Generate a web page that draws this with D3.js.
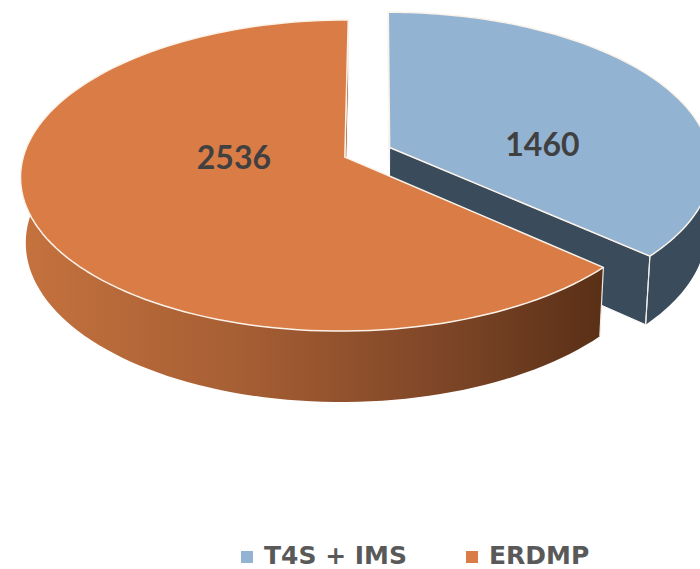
<!DOCTYPE html>
<html>
<head>
<meta charset="utf-8">
<script src="https://cdn.jsdelivr.net/npm/d3@7"></script>
<style>
  body { margin: 0; background: #fff; }
  text { font-weight: 700; }
</style>
</head>
<body>
<svg id="chart" width="700" height="569"></svg>
<script>
// data
var categories = ["T4S + IMS", "ERDMP"];
var values = [1460, 2536];
var explode = [0.153, 0];
var topColors = ["#93B3D3", "#DA7C46"];
var sideColors = ["#3A4B5C", "#8A4E2C"];
// label anchor on top face, in slice-local polar coords (angle deg, radius)
var labelAt = [[88, 0.48], [270, 0.345]];

var svg = d3.select("#chart");

// 3d projection (perspective, camera tilted down, a bit right of centre)
var cx = 377, cy = 157, fx = 2386, fy = 2409, D = 7.42, depth = 0.231, camX = 0.1;
var elev = 28.2 * Math.PI / 180;
var ce = Math.cos(elev), se = Math.sin(elev);

function project(X, Y, Z) {
  var d = D - (Z * ce + Y * se);
  var yc = Y * ce - Z * se;
  return [cx + fx * (X - camX) / d, cy - fy * yc / d];
}

var pie = d3.pie().sort(null).startAngle(0).endAngle(2 * Math.PI);
var arcs = pie(values);

arcs.forEach(function(a, i) {
  var mid = (a.startAngle + a.endAngle) / 2;
  a.ox = explode[i] * Math.sin(mid);
  a.oz = -explode[i] * Math.cos(mid);
});

function pt(a, ang, r, Y) {
  return project(a.ox + r * Math.sin(ang), Y, a.oz - r * Math.cos(ang));
}

function rim(a, Y, reverse) {
  var n = 120, pts = [];
  for (var k = 0; k <= n; k++) {
    var t = a.startAngle + (a.endAngle - a.startAngle) * k / n;
    pts.push(pt(a, t, 1, Y));
  }
  return reverse ? pts.reverse() : pts;
}

var line = d3.line();
var poly = function(pts) { return line(pts) + "Z"; };

// gradient for orange side wall
var defs = svg.append("defs");
var grad = defs.append("linearGradient")
  .attr("id", "sideGrad")
  .attr("gradientUnits", "userSpaceOnUse")
  .attr("x1", 20).attr("x2", 600).attr("y1", 0).attr("y2", 0);
grad.selectAll("stop")
  .data([[0, "#C5723E"], [0.4, "#A45D33"], [0.75, "#7B4426"], [1, "#5A3017"]])
  .enter().append("stop")
  .attr("offset", function(d) { return d[0]; })
  .attr("stop-color", function(d) { return d[1]; });

var camPos = [camX, D * se, D * ce];

function faceVisible(a, ang, sign) {
  // outward normal of a radial face
  var na = ang + sign * Math.PI / 2;
  var nx = Math.sin(na), nz = -Math.cos(na);
  return nx * (camPos[0] - a.ox) + nz * (camPos[2] - a.oz) > 1e-6;
}

var g = svg.append("g");

arcs.forEach(function(a, i) {
  var sg = g.append("g");
  var wallFill = i === 1 ? "url(#sideGrad)" : sideColors[i];

  // outer wall
  sg.append("path")
    .attr("d", poly(rim(a, 0).concat(rim(a, -depth, true))))
    .attr("fill", wallFill);

  // radial faces
  [[a.startAngle, -1], [a.endAngle, 1]].forEach(function(fc) {
    if (!faceVisible(a, fc[0], fc[1])) return;
    var pts = [pt(a, 0, 0, 0), pt(a, fc[0], 1, 0), pt(a, fc[0], 1, -depth), pt(a, 0, 0, -depth)];
    sg.append("path")
      .attr("d", poly(pts))
      .attr("fill", i === 1 ? "#9A5A33" : sideColors[i])
      .attr("stroke", "#ffffff")
      .attr("stroke-width", 1)
      .attr("stroke-linejoin", "round");
  });

  // vertical corner edges
  [a.startAngle, a.endAngle].forEach(function(ang) {
    sg.append("path")
      .attr("d", line([pt(a, ang, 1, 0), pt(a, ang, 1, -depth)]))
      .attr("stroke", "#F3EDE6")
      .attr("stroke-width", 1.2);
  });

  // top face
  sg.append("path")
    .attr("d", poly([pt(a, 0, 0, 0)].concat(rim(a, 0))))
    .attr("fill", topColors[i])
    .attr("stroke", "#FBF3EA")
    .attr("stroke-width", 1.5)
    .attr("stroke-linejoin", "round");
});

// value labels
g.selectAll("text.val")
  .data(arcs)
  .enter().append("text")
  .attr("class", "val")
  .attr("transform", function(a, i) {
    var p = pt(a, labelAt[i][0] * Math.PI / 180, labelAt[i][1], 0);
    return "translate(" + p[0] + "," + p[1] + ")";
  })
  .attr("text-anchor", "middle")
  .attr("dy", "0.36em")
  .attr("fill", "#404040")
  .style("font-family", "Lato, sans-serif")
  .style("font-size", "32px")
  .text(function(a) { return a.data; });

// legend
var legX = d3.scalePoint().domain(categories).range([241, 466]);
var leg = svg.append("g").attr("transform", "translate(0,564)");
var item = leg.selectAll("g")
  .data(categories)
  .enter().append("g")
  .attr("transform", function(d) { return "translate(" + legX(d) + ",0)"; });
item.append("rect")
  .attr("x", 0).attr("y", -13)
  .attr("width", 12).attr("height", 12)
  .attr("fill", function(d, i) { return topColors[i]; });
item.append("text")
  .attr("x", 23)
  .attr("fill", "#595959")
  .style("font-family", "'DejaVu Sans', sans-serif")
  .style("font-size", "25px")
  .text(function(d) { return d; });
</script>
</body>
</html>
